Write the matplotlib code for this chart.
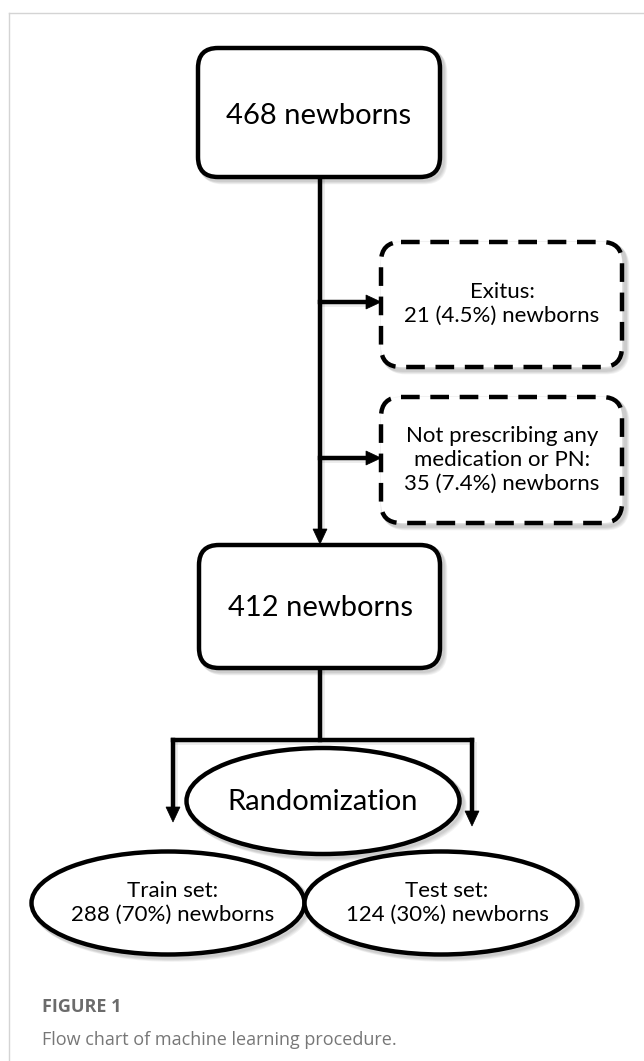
import matplotlib
matplotlib.use("Agg")
import matplotlib.pyplot as plt
from matplotlib.patches import FancyBboxPatch, Ellipse, Polygon

plt.rcParams["font.family"] = ["Lato", "DejaVu Sans"]

# ── texts of the flow chart
START_LABEL = "468 newborns"
EXCLUDED_LABELS = ["Exitus:\n21 (4.5%) newborns",
                   "Not prescribing any\nmedication or PN:\n35 (7.4%) newborns"]
KEPT_LABEL = "412 newborns"
SPLIT_LABEL = "Randomization"
SET_LABELS = ["Train set:\n288 (70%) newborns", "Test set:\n124 (30%) newborns"]
CAPTION_TITLE = "FIGURE 1"
CAPTION_TEXT = "Flow chart of machine learning procedure."

W, H = 644, 1061
LW = 3.2

fig = plt.figure(figsize=(W / 100, H / 100), dpi=100)
ax = fig.add_axes([0, 0, 1, 1])
ax.set_xlim(0, W)
ax.set_ylim(H, 0)
ax.axis("off")

# light frame (top and left)
ax.plot([9, W], [13, 13], color="#d4d4d4", lw=1.0)
ax.plot([9, 9], [13, H], color="#d4d4d4", lw=1.0)


def shadow(make, n=4):
    for i in range(n):
        ax.add_patch(make(2 + i * 0.8))


def rbox(x0, y0, x1, y1, dashed=False, r=20):
    def mk(off):
        return FancyBboxPatch((x0 + off, y0 + off), x1 - x0, y1 - y0,
                              boxstyle=f"round,pad=0,rounding_size={r}",
                              fc="none", ec="black", lw=LW + 1, alpha=0.05, zorder=1)
    shadow(mk)
    p = FancyBboxPatch((x0, y0), x1 - x0, y1 - y0,
                       boxstyle=f"round,pad=0,rounding_size={r}",
                       fc="white", ec="black", lw=LW, zorder=3,
                       ls=(0, (4.2, 2.4)) if dashed else "-",
                       capstyle="butt")
    ax.add_patch(p)


def ell(cx, cy, w, h):
    def mk(off):
        return Ellipse((cx + off, cy + off), w, h, fc="none", ec="black",
                       lw=LW + 1, alpha=0.05, zorder=1)
    shadow(mk)
    ax.add_patch(Ellipse((cx, cy), w, h, fc="white", ec="black", lw=LW, zorder=3))


def line(xs, ys):
    ax.plot([x + 2 for x in xs], [y + 2 for y in ys], color="black", lw=LW + 1,
            alpha=0.08, zorder=1, solid_capstyle="butt")
    ax.plot(xs, ys, color="black", lw=LW, zorder=2, solid_capstyle="projecting")


def head(x, y, direction):
    # filled triangular arrow head with tip at (x, y)
    L, hw = 15, 7
    if direction == "down":
        pts = [(x, y), (x - hw, y - L), (x + hw, y - L)]
    else:
        pts = [(x, y), (x - L, y - hw), (x - L, y + hw)]
    ax.add_patch(Polygon(pts, closed=True, fc="black", ec="black", lw=0.5, zorder=4))


# boxes
rbox(198, 48, 440, 177)
ax.text(319, 116, START_LABEL, ha="center", va="center", fontsize=21, zorder=5)

rbox(381, 242, 622, 367, dashed=True)
ax.text(502, 304, EXCLUDED_LABELS[0], ha="center", va="center", fontsize=16,
        linespacing=1.25, zorder=5)
rbox(381, 397, 622, 523, dashed=True)
ax.text(502, 460, EXCLUDED_LABELS[1], ha="center", va="center", fontsize=16,
        linespacing=1.25, zorder=5)

rbox(199, 545, 440, 668)
ax.text(321, 608, KEPT_LABEL, ha="center", va="center", fontsize=21, zorder=5)

# main trunk with side exclusions
line([320, 320], [177, 530])
head(320, 544, "down")
line([320, 366], [302, 302])
head(381, 302, "right")
line([320, 366], [458, 458])
head(381, 458, "right")

# split
line([320, 320], [668, 740])
line([173, 472], [740, 740])
line([173, 173], [740, 808])
head(173, 822, "down")
line([472, 472], [740, 812])
head(472, 826, "down")

ell(323, 801, 273, 106)
ax.text(323, 802, SPLIT_LABEL, ha="center", va="center", fontsize=21, zorder=5)

ell(168, 903, 273, 103)
ax.text(173, 903, SET_LABELS[0], ha="center", va="center", fontsize=16,
        linespacing=1.2, zorder=5)
ell(441, 903, 273, 103)
ax.text(447, 903, SET_LABELS[1], ha="center", va="center", fontsize=16,
        linespacing=1.2, zorder=5)

# caption
ax.text(42, 1007, CAPTION_TITLE, ha="left", va="center", fontsize=13,
        fontweight="bold", color="#6b6b6b", family=["Open Sans", "DejaVu Sans"])
ax.text(42, 1040, CAPTION_TEXT, ha="left", va="center", fontsize=13,
        color="#777777", family=["Open Sans", "DejaVu Sans"])

fig.savefig("out.png", dpi=100)
